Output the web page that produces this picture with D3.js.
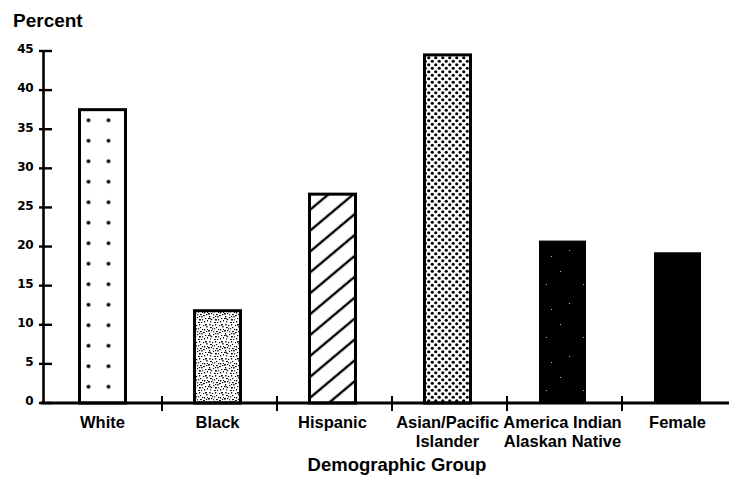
<!DOCTYPE html>
<html>
<head>
<meta charset="utf-8">
<script src="https://cdn.jsdelivr.net/npm/d3@7"></script>
<style>
  html, body { margin: 0; padding: 0; background: #fff; }
  svg { display: block; }
  text { font-family: "Liberation Sans", Arial, Helvetica, sans-serif; font-weight: bold; fill: #000; }
</style>
</head>
<body>
<svg id="chart" width="729" height="485"></svg>
<script>
// ---- data ----
const categories = ["White", "Black", "Hispanic", "Asian/Pacific Islander", "America Indian Alaskan Native", "Female"];
const labelLines = [["White"], ["Black"], ["Hispanic"], ["Asian/Pacific", "Islander"], ["America Indian", "Alaskan Native"], ["Female"]];
const percentValues = [37.5, 11.8, 26.7, 44.5, 20.7, 19.2];
const yTickValues = [0, 5, 10, 15, 20, 25, 30, 35, 40, 45];
const yAxisTitle = "Percent";
const xAxisTitle = "Demographic Group";

// ---- layout ----
const W = 729, H = 485;
const svg = d3.select("#chart");
const y = d3.scaleLinear().domain([0, 45]).range([403, 51]);
const x = d3.scaleBand().domain(categories).range([47, 737]);
const axisX = 43;
const barW = 46;
const barShift = -2;

// ---- patterns ----
const defs = svg.append("defs");
// sparse dots (White)
const pDots = defs.append("pattern").attr("id", "pSparse")
  .attr("patternUnits", "userSpaceOnUse").attr("width", 20).attr("height", 20.5)
  .attr("x", x(categories[0]) + (x.bandwidth() - barW) / 2 + barShift - 1)
  .attr("y", y(0) - 26.5);
pDots.append("circle").attr("cx", 10).attr("cy", 10.25).attr("r", 1.9).attr("fill", "#000");

// speckle (Black)
const speckPts = [[1,1],[4,2],[7,1],[2,4],[6,5],[8,4],[0,7],[3,7],[5,8],[8,8],[1,10],[5,11],[9,10],[11,2],[12,6],[11,9],[10,13],[3,13],[7,13],[13,12],[2,15],[6,16],[12,15],[9,16],[14,3],[14,8],[15,14],[0,12],[4,5],[10,6],[13,1],[7,10],[2,12],[15,6]];
const pSpeck = defs.append("pattern").attr("id", "pSpeck")
  .attr("patternUnits", "userSpaceOnUse").attr("width", 16).attr("height", 17);
pSpeck.append("rect").attr("width", 16).attr("height", 17).attr("fill", "#fff");
pSpeck.selectAll("rect.s").data(speckPts).join("rect").attr("class", "s")
  .attr("x", d => d[0]).attr("y", d => d[1])
  .attr("width", (d, i) => i % 3 === 0 ? 1.8 : 1.2).attr("height", (d, i) => i % 2 === 0 ? 1.5 : 1.1)
  .attr("fill", (d, i) => i % 4 === 0 ? "#444" : "#000");

// diagonal hatch (Hispanic)
const pHatch = defs.append("pattern").attr("id", "pHatch")
  .attr("patternUnits", "userSpaceOnUse").attr("width", 16).attr("height", 16)
  .attr("patternTransform", "rotate(-40)");
pHatch.append("rect").attr("width", 16).attr("height", 16).attr("fill", "#fff");
pHatch.append("line").attr("x1", 0).attr("x2", 16).attr("y1", 8).attr("y2", 8)
  .attr("stroke", "#000").attr("stroke-width", 2.4);

// dense dots (Asian/Pacific)
const pDense = defs.append("pattern").attr("id", "pDense")
  .attr("patternUnits", "userSpaceOnUse").attr("width", 7).attr("height", 7);
pDense.append("rect").attr("width", 7).attr("height", 7).attr("fill", "#fff");
pDense.append("circle").attr("cx", 1.75).attr("cy", 1.75).attr("r", 1.6).attr("fill", "#000");
pDense.append("circle").attr("cx", 5.25).attr("cy", 5.25).attr("r", 1.6).attr("fill", "#000");

// black with sparse white specks (America Indian)
const pDark = defs.append("pattern").attr("id", "pDark")
  .attr("patternUnits", "userSpaceOnUse").attr("width", 37).attr("height", 53);
pDark.append("rect").attr("width", 37).attr("height", 53).attr("fill", "#000");
[[5,6],[28,19],[14,38],[33,44]].forEach(p =>
  pDark.append("rect").attr("x", p[0]).attr("y", p[1]).attr("width", 1).attr("height", 1).attr("fill", "#bbb"));

const fills = ["url(#pSparse)", "url(#pSpeck)", "url(#pHatch)", "url(#pDense)", "url(#pDark)", "#000"];

// ---- bars ----
svg.append("g").selectAll("rect").data(categories).join("rect")
  .attr("x", d => x(d) + (x.bandwidth() - barW) / 2 + barShift)
  .attr("y", (d, i) => y(percentValues[i]))
  .attr("width", barW)
  .attr("height", (d, i) => y(0) - y(percentValues[i]))
  .attr("fill", (d, i) => fills[i])
  .attr("stroke", "#000")
  .attr("stroke-width", (d, i) => i < 4 ? 3 : 1);

// ---- y axis ----
const gy = svg.append("g").attr("transform", `translate(${axisX},0)`)
  .call(d3.axisLeft(y).tickValues(yTickValues).tickSizeOuter(0).tickSizeInner(0).tickPadding(10));
gy.select(".domain").attr("stroke", "#000").attr("stroke-width", 2.6);
gy.selectAll(".tick line").remove();
gy.selectAll(".tick text")
  .style("font-family", "'DejaVu Sans', sans-serif").style("font-weight", "bold")
  .style("letter-spacing", "-0.5px")
  .attr("font-size", 12).attr("dy", "0.15em").attr("fill", "#000");
svg.append("g").selectAll("line").data(yTickValues).join("line")
  .attr("x1", axisX - 4).attr("x2", axisX + 9)
  .attr("y1", d => y(d)).attr("y2", d => y(d))
  .attr("stroke", "#000").attr("stroke-width", 2.4);

// ---- x axis ----
svg.append("line").attr("x1", axisX - 2).attr("x2", W).attr("y1", y(0)).attr("y2", y(0))
  .attr("stroke", "#000").attr("stroke-width", 3);
svg.append("g").selectAll("line").data(categories.slice(1)).join("line")
  .attr("x1", d => x(d)).attr("x2", d => x(d))
  .attr("y1", y(0) - 7).attr("y2", y(0) + 8)
  .attr("stroke", "#000").attr("stroke-width", 2);

const lbl = svg.append("g").selectAll("text").data(categories).join("text")
  .attr("x", d => x(d) + x.bandwidth() / 2 + barShift)
  .attr("y", y(0) + 25)
  .attr("text-anchor", "middle")
  .attr("font-size", 16.5);
lbl.selectAll("tspan").data((d, i) => labelLines[i]).join("tspan")
  .attr("x", function () { return d3.select(this.parentNode).attr("x"); })
  .attr("dy", (d, j) => j === 0 ? 0 : 19)
  .text(d => d);

// ---- titles ----
svg.append("text").attr("x", 13).attr("y", 27).attr("font-size", 19).text(yAxisTitle);
svg.append("text").attr("x", 397).attr("y", 471).attr("text-anchor", "middle").attr("font-size", 18.5).text(xAxisTitle);
</script>
</body>
</html>
